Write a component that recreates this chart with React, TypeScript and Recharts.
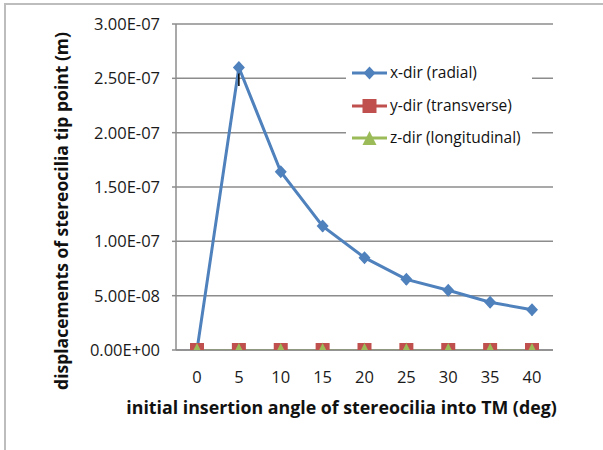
import React from 'react';
import { LineChart, Line, XAxis, YAxis, CartesianGrid, Legend, ErrorBar, Label } from 'recharts';

const angles = ['0', '5', '10', '15', '20', '25', '30', '35', '40'];
const xDir = [0, 2.6e-7, 1.64e-7, 1.14e-7, 8.5e-8, 6.5e-8, 5.5e-8, 4.4e-8, 3.7e-8];
const yDir = [0, 0, 0, 0, 0, 0, 0, 0, 0];
const zDir = [0, 0, 0, 0, 0, 0, 0, 0, 0];
const xDirErrDown = [0, 1.7e-8, 4e-9, 5e-9, 5e-9, 5e-9, 5e-9, 5e-9, 5e-9];
const zDirErrUp = [0, 6.5e-9, 6.5e-9, 6.5e-9, 6.5e-9, 6.5e-9, 6.5e-9, 6.5e-9, 6.5e-9];
const yTicks = [0, 5e-8, 1e-7, 1.5e-7, 2e-7, 2.5e-7, 3e-7];
const seriesNames = ['x-dir (radial)', 'y-dir (transverse)', 'z-dir (longitudinal)'];
const seriesColors = ['#4F81BD', '#C0504D', '#9BBB59'];
const xTitle = 'initial insertion angle of stereocilia into TM (deg)';
const yTitle = 'displacements of stereocilia tip point (m)';

const data = angles.map((a, i) => ({
  angle: a,
  x: xDir[i],
  y: yDir[i],
  z: zDir[i],
  xErr: [xDirErrDown[i], 0],
  zErr: [0, zDirErrUp[i]],
}));

const FONT = '"Open Sans", sans-serif';

const fmt = (v: number) => {
  const [m, e] = v.toExponential(2).split('e');
  const sign = e[0] === '-' ? '-' : '+';
  const digits = e.replace(/^[+-]/, '').padStart(2, '0');
  return `${m}E${sign}${digits}`;
};

const diamond = (cx: number, cy: number, color: string, k?: any) => (
  <polygon key={k} points={`${cx},${cy - 6.5} ${cx + 6},${cy} ${cx},${cy + 6.5} ${cx - 6},${cy}`} fill={color} />
);
const square = (cx: number, cy: number, color: string, k?: any) => (
  <rect key={k} x={cx - 7} y={cy - 7} width={14} height={14} fill={color} />
);
const triangle = (cx: number, cy: number, color: string, k?: any) => (
  <polygon key={k} points={`${cx},${cy - 7} ${cx + 7},${cy + 7} ${cx - 7},${cy + 7}`} fill={color} />
);
const shapes = [diamond, square, triangle];

const LegendBox = () => (
  <div style={{ position: 'relative', width: 186, height: 104, background: '#fff', fontFamily: FONT }}>
    {seriesNames.map((n, i) => (
      <div key={n} style={{ position: 'absolute', left: 0, top: 8 + i * 32.5, height: 18, width: 186 }}>
        <svg width={40} height={18} style={{ position: 'absolute', left: 6, top: 0 }}>
          <line x1={0} y1={9} x2={35} y2={9} stroke={seriesColors[i]} strokeWidth={3} />
          {shapes[i](17.5, 9, seriesColors[i])}
        </svg>
        <span style={{ position: 'absolute', left: 44, top: -1, fontSize: 15.5, lineHeight: '18px', color: '#111', whiteSpace: 'nowrap' }}>{n}</span>
      </div>
    ))}
  </div>
);

export default function App() {
  return (
    <div style={{ position: 'absolute', left: 0, top: 0, width: 603, height: 450, overflow: 'hidden', background: '#fff' }}>
      <div style={{ position: 'absolute', left: 4, top: 3, width: 700, height: 600, border: '2px solid #bdbdbd' }} />
      <div style={{ position: 'absolute', left: 0, top: 0 }}>
        <LineChart width={603} height={450} data={data} margin={{ top: 24, right: 50, bottom: 70, left: 0 }}>
          <CartesianGrid vertical={false} stroke="#8c8c8c" strokeWidth={1.5} />
          <XAxis
            dataKey="angle"
            tickLine={false}
            tickSize={0}
            tickMargin={21}
            height={30}
            padding={{ left: 21, right: 21 }}
            stroke="#8c8c8c"
            strokeWidth={1.5}
            tick={{ fill: '#1a1a1a', fontSize: 16.5, fontFamily: FONT }}
            interval={0}
          >
            <Label value={xTitle} position="center" dx={-23} dy={43} style={{ fontSize: 17.8, fontWeight: 'bold', fontFamily: FONT, fill: '#111' }} />
          </XAxis>
          <YAxis
            width={176}
            domain={[0, 3e-7]}
            ticks={yTicks}
            tickFormatter={fmt}
            tickSize={4}
            tickMargin={12}
            stroke="#8c8c8c"
            strokeWidth={1.5}
            allowDataOverflow
            tick={{ fill: '#1a1a1a', fontSize: 16.5, fontFamily: FONT }}
          >
            <Label value={yTitle} angle={-90} position="center" dx={-26} dy={24} style={{ fontSize: 17.5, fontWeight: 'bold', fontFamily: FONT, fill: '#111', textAnchor: 'middle' }} />
          </YAxis>
          <Legend
            layout="vertical"
            verticalAlign="middle"
            align="center"
            content={() => <LegendBox />}
            wrapperStyle={{ position: 'absolute', left: 346, top: 56, width: 186, height: 104 }}
          />
          <Line dataKey="x" name={seriesNames[0]} stroke={seriesColors[0]} strokeWidth={3} isAnimationActive={false}
            dot={(p: any) => diamond(p.cx, p.cy, seriesColors[0], p.index)} activeDot={false} />
          <Line dataKey="y" name={seriesNames[1]} stroke={seriesColors[1]} strokeWidth={2} isAnimationActive={false}
            dot={(p: any) => square(p.cx, p.cy, seriesColors[1], p.index)} activeDot={false} />
          <Line dataKey="z" name={seriesNames[2]} stroke={seriesColors[2]} strokeWidth={2} isAnimationActive={false}
            dot={(p: any) => triangle(p.cx, p.cy, seriesColors[2], p.index)} activeDot={false} />
          <Line dataKey="x" stroke="none" dot={false} activeDot={false} legendType="none" isAnimationActive={false}>
            <ErrorBar dataKey="xErr" width={0} stroke="#000" strokeWidth={1.5} isAnimationActive={false} />
          </Line>
          <Line dataKey="z" stroke="none" dot={false} activeDot={false} legendType="none" isAnimationActive={false}>
            <ErrorBar dataKey="zErr" width={0} stroke="#000" strokeWidth={1.5} isAnimationActive={false} />
          </Line>
        </LineChart>
      </div>
    </div>
  );
}
